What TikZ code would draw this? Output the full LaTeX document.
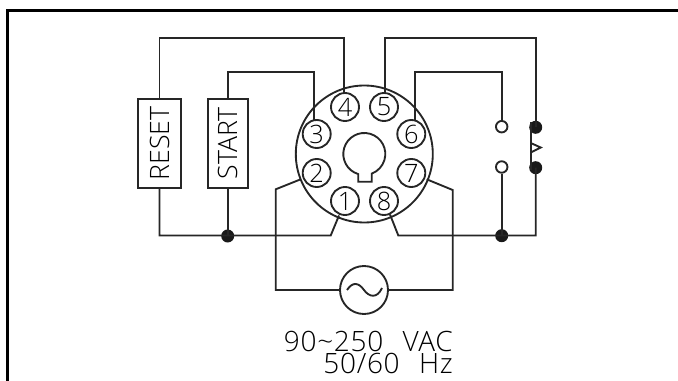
\documentclass[tikz,border=0pt]{standalone}
\usepackage{fontspec}
\setmainfont{Open Sans Light}
\begin{document}
\begin{tikzpicture}[x=0.75pt,y=-0.75pt,
  wire/.style={line width=1.4pt,draw=black!85,line join=miter},
  pin/.style={circle,draw=black!85,line width=1.4pt,minimum size=28*0.75pt,inner sep=0pt,fill=white,font=\fontsize{19pt}{19pt}\selectfont},
  dot/.style={circle,fill=black!90,minimum size=13*0.75pt,inner sep=0pt},
  open/.style={circle,draw=black!85,line width=1.4pt,fill=white,minimum size=11.5*0.75pt,inner sep=0pt},
  tbox/.style={draw=black!85,line width=1.4pt,fill=white,inner sep=0pt,rotate=90,font=\fontsize{20pt}{20pt}\selectfont},
  lbl/.style={align=right,inner sep=0pt,font=\fontsize{21pt}{15pt}\selectfont\addfontfeature{LetterSpace=2.5}}]
\useasboundingbox (0,0) rectangle (678,381);
\draw[line width=2.25pt,black] (7.5,381) -- (7.5,10.5) -- (678,10.5);
% socket
\node[circle,draw=black!85,line width=1.4pt,minimum size=137*0.75pt,inner sep=0pt] (base) at (364.3,154) {};
\draw[wire] (358.3,174.1) arc[start angle=106.6,end angle=429.4,radius=21] -- (371.7,181.7) -- (358.3,181.7) -- cycle;
\node[pin] (p4) at (345,107) {4};
\node[pin] (p5) at (384,107) {5};
\node[pin] (p3) at (316.7,134) {3};
\node[pin] (p6) at (411.3,134) {6};
\node[pin] (p2) at (316.7,173) {2};
\node[pin] (p7) at (411.3,173) {7};
\node[pin] (p1) at (345,201) {1};
\node[pin] (p8) at (384,201) {8};
% boxes
\node[tbox,minimum width=88.7*0.75pt,minimum height=42.4*0.75pt] (reset) at (159.5,143.3) {RESET};
\node[tbox,minimum width=88.7*0.75pt,minimum height=40*0.75pt] (start) at (227.7,143.3) {START};
% contacts and junctions
\node[open] (c1) at (501.7,126.7) {};
\node[open] (c2) at (501.7,167) {};
\node[dot] (d1) at (535.7,127.3) {};
\node[dot] (d2) at (535.7,167.7) {};
\node[dot] (j1) at (227.7,236) {};
\node[dot] (j2) at (501.7,235.7) {};
% AC source
\node[circle,draw=black!85,line width=1.4pt,minimum size=48*0.75pt,inner sep=0pt] (ac) at (364,290) {};
\draw[wire] ([xshift=-17*0.75pt]ac.center) .. controls ([xshift=-11*0.75pt,yshift=9*0.75pt]ac.center) and ([xshift=-5*0.75pt,yshift=7*0.75pt]ac.center) .. (ac.center) .. controls ([xshift=5*0.75pt,yshift=-7*0.75pt]ac.center) and ([xshift=13*0.75pt,yshift=-9*0.75pt]ac.center) .. ([xshift=18*0.75pt,yshift=2*0.75pt]ac.center);
% wires
\draw[wire] (reset.east) -- (159.5,38.3) -- (343.8,38.3) -- (343.8,93);
\draw[wire] (start.east) -- (227.7,72.3) -- (313.7,72.3) -- (313.7,120);
\draw[wire] (385,93) -- (385,38.3) -- (535.7,38.3) -- (d1.center);
\draw[wire] (415,120.5) -- (415,72.3) -- (501.7,72.3) -- (c1.north);
\draw[wire] (reset.west) -- (159.5,235.5) -- (330.7,235.5) -- (339,215.5);
\draw[wire] (start.west) -- (j1.center);
\draw[wire] (390,214.5) -- (398.3,235.5) -- (535.7,235.5) -- (d2.center);
\draw[wire] (c2.south) -- (j2.center);
\draw[wire] (300.7,179.3) -- (275.7,189.3) -- (275.7,290) -- (ac.west);
\draw[wire] (426.7,179.3) -- (452.7,190) -- (452.7,290) -- (ac.east);
% relay bar
\draw[wire] (530.7,122) -- (530.7,170);
\draw[wire] (530.7,143) -- (540.7,147.5) -- (530.7,152.5);
% text
\node[lbl,anchor=base east] (v) at (453,373) {90\char`\~250\hspace{14.5pt}VAC\\50/60\hspace{14.5pt}Hz};
\end{tikzpicture}
\end{document}
